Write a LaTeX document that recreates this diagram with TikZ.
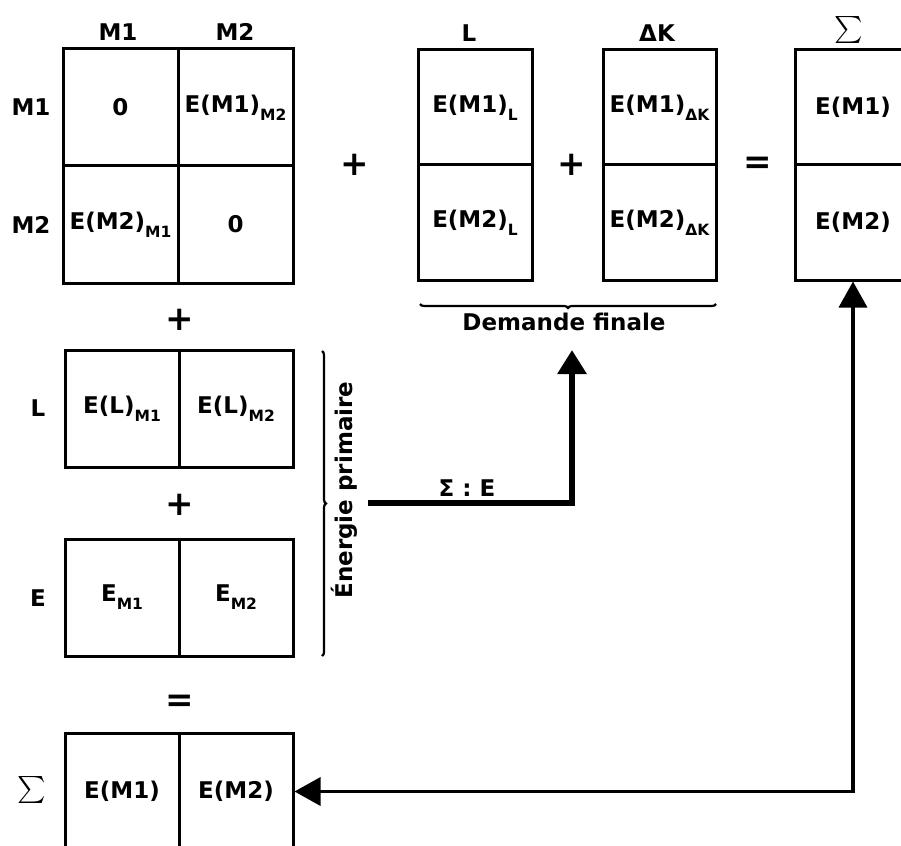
\documentclass[tikz,border=0pt]{standalone}
\usepackage{fontspec}
\usepackage{graphicx}
\setmainfont{DejaVu Sans}
\usetikzlibrary{arrows.meta,decorations.pathreplacing}
\newcommand{\sbx}[1]{\raisebox{-8pt}{\fontsize{15.5}{16}\selectfont #1}}
\newcommand{\bigsum}{\scalebox{2.7}{\normalsize$\sum$}}
\begin{document}
\begin{tikzpicture}[x=1pt,y=-1pt,
  every node/.style={font=\fontsize{23}{25}\selectfont\bfseries, inner sep=0pt},
  cell/.style={draw, line width=3pt, minimum width=114pt, minimum height=117pt},
  opsign/.style={font=\fontsize{34}{34}\selectfont\bfseries},
  bracel/.style={decorate, line width=2.2pt}
]
\useasboundingbox (0,0) rectangle (901,845);
\clip (0,0) rectangle (901,845);

% top matrix
\node[cell, minimum width=115pt] (a11) at (120.5,107.5) {0};
\node[cell, minimum width=115pt] (a12) at (235.5,107.5) {E(M1)\sbx{M2}};
\node[cell, minimum width=115pt] (a21) at (120.5,224.5) {E(M2)\sbx{M1}};
\node[cell, minimum width=115pt] (a22) at (235.5,224.5) {0};
\node (cm1) at (118,32) {M1};
\node (cm2) at (235,32) {M2};
\node (rm1) at (31,107) {M1};
\node (rm2) at (31,225) {M2};

% L column
\node[cell, minimum height=115pt] (l1) at (475,107.5) {E(M1)\sbx{L}};
\node[cell, minimum height=115pt] (l2) at (475,222.5) {E(M2)\sbx{L}};
\node (cl) at (469,33) {L};
% Delta K column
\node[cell, minimum width=113pt, minimum height=115pt] (k1) at (659.5,107.5) {E(M1)\sbx{ΔK}};
\node[cell, minimum width=113pt, minimum height=115pt] (k2) at (659.5,222.5) {E(M2)\sbx{ΔK}};
\node (ck) at (657,33) {ΔK};
% Sigma column
\node[cell, minimum width=116pt, minimum height=115pt] (s1) at (853,107.5) {E(M1)};
\node[cell, minimum width=116pt, minimum height=115pt] (s2) at (853,222.5) {E(M2)};
\node (cs) at (849,30) {\bigsum};

% operators, top row
\node[opsign] (p1) at (355,165) {+};
\node[opsign] (p2) at (572,165) {+};
\node[opsign] (q1) at (758,165) {=};

% Demande finale
\coordinate (dfa) at (420,304);
\coordinate (dfb) at (716,304);
\draw[bracel, decoration={brace, amplitude=4pt, mirror}] (dfa) -- (dfb);
\node (df) at (564,322) {Demande finale};

% left column
\node[opsign] (p3) at (180,320) {+};
\node[cell] (r1) at (122,408.5) {E(L)\sbx{M1}};
\node[cell] (r2) at (236,408.5) {E(L)\sbx{M2}};
\node (rl) at (38,408) {L};
\node[opsign] (p4) at (180,505) {+};
\node[cell] (e1) at (122,597.5) {E\sbx{M1}};
\node[cell] (e2) at (236,597.5) {E\sbx{M2}};
\node (re) at (38,598) {E};
\node[opsign] (q2) at (180,703) {=};
\node[cell] (b1) at (122,791.5) {E(M1)};
\node[cell] (b2) at (236,791.5) {E(M2)};
\node (rs) at (32,790) {\bigsum};

% Energie primaire brace
\coordinate (epa) at (322,351);
\coordinate (epb) at (322,656);
\draw[bracel, decoration={brace, amplitude=4pt}] (epa) -- (epb);
\node[rotate=90] (ep) at (344,490) {Énergie primaire};

% Sigma : E arrow
\coordinate (se0) at (368,503);
\coordinate (dftip) at (572,350);
\draw[line width=6pt, -{Triangle[width=28pt,length=24pt]}] (se0) -| (dftip);
\node (se) at (467,488) {Σ : E};

% feedback arrow
\draw[line width=3.5pt, {Triangle[width=28pt,length=26pt]}-{Triangle[width=28pt,length=26pt]}] (s2.south) |- (b2.east);
\end{tikzpicture}
\end{document}
